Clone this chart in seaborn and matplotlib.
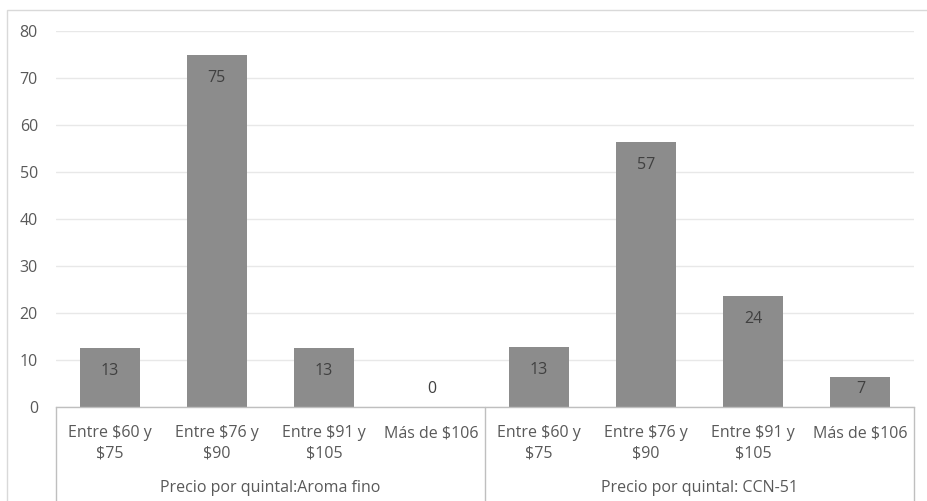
import matplotlib
matplotlib.use("Agg")
import matplotlib.pyplot as plt
import matplotlib.transforms as mtransforms
from matplotlib.patches import Rectangle
import seaborn as sns
import pandas as pd

# ---- data ----
groups = ["Precio por quintal:Aroma fino", "Precio por quintal: CCN-51"]
categories = ["Entre $60 y\n$75", "Entre $76 y\n$90", "Entre $91 y\n$105", "Más de $106"]
aroma_values = [12.5, 75.0, 12.5, 0.0]
ccn_values = [12.8, 56.4, 23.7, 6.4]
aroma_labels = ["13", "75", "13", "0"]
ccn_labels = ["13", "57", "24", "7"]
y_ticks = [0, 10, 20, 30, 40, 50, 60, 70, 80]

rows = []
for g, vals, labs in [(groups[0], aroma_values, aroma_labels), (groups[1], ccn_values, ccn_labels)]:
    for c, v, l in zip(categories, vals, labs):
        rows.append({"key": g + "|" + c, "group": g, "cat": c, "value": v, "label": l})
df = pd.DataFrame(rows)

sns.set_theme(style="white")
plt.rcParams["font.family"] = ["Open Sans", "DejaVu Sans"]

TXT = "#595959"
FS = 11.5
fig = plt.figure(figsize=(9.27, 5.01), dpi=100)
W, H = 927, 501
left, right, y0, ytop = 56, 914, 407, 31
ax = fig.add_axes([left / W, (H - y0) / H, (right - left) / W, (y0 - ytop) / H])

sns.barplot(data=df, x="key", y="value", order=list(df["key"]), color="#8c8c8c",
            saturation=1, width=0.56, ax=ax, edgecolor="none")

ax.set_ylim(0, 80)
ax.set_xlim(-0.5, len(df) - 0.5)
ax.set_yticks(y_ticks)
ax.set_yticklabels([str(t) for t in y_ticks], color=TXT, fontsize=FS)
ax.tick_params(axis="y", length=0, pad=13)
ax.yaxis.grid(True, color="#e8e8e8", linewidth=1)
ax.set_axisbelow(True)
for s in ["top", "right", "left"]:
    ax.spines[s].set_visible(False)
ax.spines["bottom"].set_color("#bfbfbf")
ax.spines["bottom"].set_linewidth(1)
ax.set_xlabel("")
ax.set_ylabel("")

ax.set_xticks(range(len(df)))
ax.set_xticklabels(df["cat"], color=TXT, fontsize=FS, linespacing=1.35)
ax.tick_params(axis="x", length=0, pad=13)

# data labels
px_per_unit = (y0 - ytop) / 80.0
for i, (v, l) in enumerate(zip(df["value"], df["label"])):
    if v > 0:
        off_px = min(23.0, v * px_per_unit / 2.0 - 3)
        ax.annotate(l, (i, v), xytext=(0, -off_px * 0.72), textcoords="offset points",
                    ha="center", va="center", color="#404040", fontsize=FS)
    else:
        ax.annotate(l, (i, v), xytext=(0, 18 * 0.72), textcoords="offset points",
                    ha="center", va="center", color="#404040", fontsize=FS)

# group dividers and group labels
trans = mtransforms.blended_transform_factory(ax.transData, ax.transAxes)
bottom_ax = -(H - y0) / (y0 - ytop)
n = len(categories)
for xd in [-0.5, n - 0.5, 2 * n - 0.5]:
    ax.plot([xd, xd], [0, bottom_ax], transform=trans, color="#bfbfbf", lw=1, clip_on=False)
for gi, g in enumerate(groups):
    xc = gi * n + (n - 1) / 2
    ax.text(xc, -(488 - y0) / (y0 - ytop), g, transform=trans, ha="center", va="center",
            color=TXT, fontsize=FS)

# outer chart border
fig.patches.append(Rectangle((7 / W, -0.01), 1.0, (H - 10) / H + 0.01, transform=fig.transFigure,
                             fill=False, edgecolor="#d9d9d9", lw=1))

fig.savefig("out.png", dpi=100)
